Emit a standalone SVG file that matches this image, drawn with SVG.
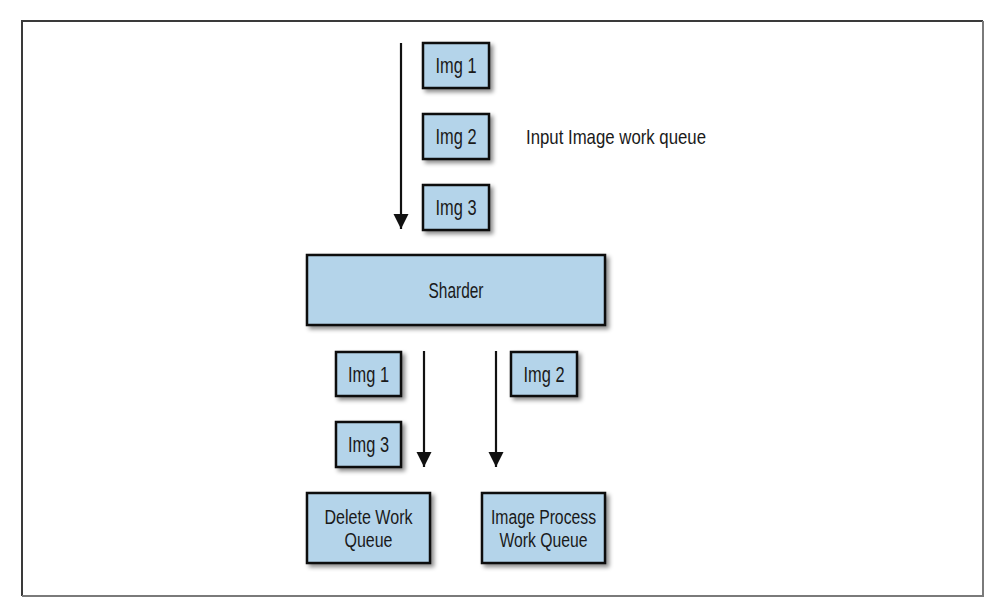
<svg xmlns="http://www.w3.org/2000/svg" width="999" height="608" viewBox="0 0 999 608">
  <style>
    .box { fill: #b4d4ea; stroke: #111; stroke-width: 2.5; filter: url(#shadow); }
    .lbl { font-family: "Liberation Sans", Arial, sans-serif; font-size: 22px; fill: #1a1a1a; text-anchor: middle; }
    .lbl2 { font-family: "Liberation Sans", Arial, sans-serif; font-size: 20px; fill: #1a1a1a; text-anchor: middle; }
    .note { font-family: "Liberation Sans", Arial, sans-serif; font-size: 21px; fill: #1a1a1a; }
    .conn { stroke: #111; stroke-width: 2.2; fill: none; marker-end: url(#arrow); }
  </style>
  <defs>
    <filter id="shadow" x="-20%" y="-20%" width="150%" height="160%">
      <feDropShadow dx="3" dy="3" stdDeviation="2" flood-color="#000" flood-opacity="0.45"/>
    </filter>
    <marker id="arrow" viewBox="0 0 15 17" refX="15" refY="7.5" markerWidth="15" markerHeight="17" markerUnits="userSpaceOnUse" orient="auto">
      <path d="M0,0 L15,7.5 L0,15 Z" fill="#111"/>
    </marker>
  </defs>
  <rect width="999" height="608" fill="#fff"/>
  <g id="frame">
    <path d="M22,596 L22,21 L983,21" fill="none" stroke="#3a3a3a" stroke-width="2"/>
    <path d="M983,21 L983,596 L22,596" fill="none" stroke="#7a7a7a" stroke-width="2"/>
  </g>
  <g id="connectors">
    <line class="conn" x1="401" y1="43" x2="401" y2="229"/>
    <line class="conn" x1="424" y1="351" x2="424" y2="467"/>
    <line class="conn" x1="496" y1="351" x2="496" y2="467"/>
  </g>
  <g id="in-img1">
    <rect class="box" x="423" y="43" width="66" height="45"/>
    <text class="lbl" x="456" y="73" textLength="41" lengthAdjust="spacingAndGlyphs">Img 1</text>
  </g>
  <g id="in-img2">
    <rect class="box" x="423" y="114" width="66" height="45"/>
    <text class="lbl" x="456" y="144" textLength="41" lengthAdjust="spacingAndGlyphs">Img 2</text>
  </g>
  <g id="in-img3">
    <rect class="box" x="423" y="185" width="66" height="45"/>
    <text class="lbl" x="456" y="215" textLength="41" lengthAdjust="spacingAndGlyphs">Img 3</text>
  </g>
  <g id="queue-label">
    <text class="note" x="526" y="144" textLength="180" lengthAdjust="spacingAndGlyphs">Input Image work queue</text>
  </g>
  <g id="sharder">
    <rect class="box" x="307" y="255" width="298" height="70"/>
    <text class="lbl" x="456" y="298" textLength="55" lengthAdjust="spacingAndGlyphs">Sharder</text>
  </g>
  <g id="out-img1">
    <rect class="box" x="336" y="352" width="65" height="44"/>
    <text class="lbl" x="368.5" y="382" textLength="41" lengthAdjust="spacingAndGlyphs">Img 1</text>
  </g>
  <g id="out-img3">
    <rect class="box" x="336" y="422" width="65" height="45"/>
    <text class="lbl" x="368.5" y="452" textLength="41" lengthAdjust="spacingAndGlyphs">Img 3</text>
  </g>
  <g id="out-img2">
    <rect class="box" x="511" y="352" width="66" height="44"/>
    <text class="lbl" x="544" y="382" textLength="41" lengthAdjust="spacingAndGlyphs">Img 2</text>
  </g>
  <g id="delete-queue">
    <rect class="box" x="307" y="493" width="123" height="70"/>
    <text class="lbl2" x="368.5" y="524" textLength="88" lengthAdjust="spacingAndGlyphs">Delete Work</text>
    <text class="lbl2" x="368.5" y="547" textLength="48" lengthAdjust="spacingAndGlyphs">Queue</text>
  </g>
  <g id="process-queue">
    <rect class="box" x="482" y="493" width="123" height="70"/>
    <text class="lbl2" x="543.5" y="524" textLength="105" lengthAdjust="spacingAndGlyphs">Image Process</text>
    <text class="lbl2" x="543.5" y="547" textLength="88" lengthAdjust="spacingAndGlyphs">Work Queue</text>
  </g>
</svg>
